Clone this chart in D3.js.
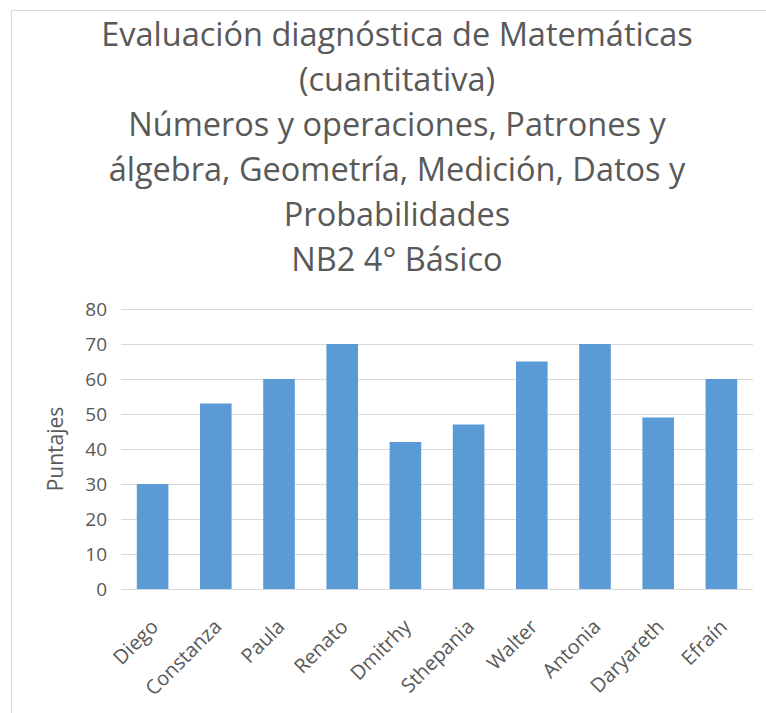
<!DOCTYPE html>
<html>
<head>
<meta charset="utf-8">
<script src="https://cdn.jsdelivr.net/npm/d3@7"></script>
<style>
  body { margin: 0; background: #fff; }
  text { font-family: "Open Sans", sans-serif; }
</style>
</head>
<body>
<div id="chart"></div>
<script>
// datos del grafico
var alumnos = ["Diego", "Constanza", "Paula", "Renato", "Dmitrhy", "Sthepania", "Walter", "Antonia", "Daryareth", "Efraín"];
var puntajes = [30, 53, 60, 70, 42, 47, 65, 70, 49, 60];
var yTicks = [0, 10, 20, 30, 40, 50, 60, 70, 80];
var tituloLineas = [
    "Evaluación diagnóstica de Matemáticas",
    "(cuantitativa)",
    "Números y operaciones, Patrones y",
    "álgebra, Geometría, Medición, Datos y",
    "Probabilidades",
    "NB2 4° Básico"
];
var ejeY = "Puntajes";

var width = 766, height = 713;
var margin = { top: 309, right: 13, bottom: 124, left: 121 };
var plotW = width - margin.left - margin.right;
var plotH = height - margin.top - margin.bottom;

var svg = d3.select("#chart").append("svg")
    .attr("width", width)
    .attr("height", height);

// marco del grafico
svg.append("rect")
    .attr("x", 11.5).attr("y", 10.5)
    .attr("width", 800).attr("height", 800)
    .attr("fill", "none")
    .attr("stroke", "#d9d9d9");

// titulo
svg.append("g").selectAll("text")
    .data(tituloLineas)
    .enter()
    .append("text")
    .attr("x", 397)
    .attr("y", function(d, i) { return 46 + i * 45; })
    .attr("text-anchor", "middle")
    .style("font-size", "32.5px")
    .style("fill", "#595959")
    .text(function(d) { return d; });

var g = svg.append("g").attr("transform", "translate(" + margin.left + "," + margin.top + ")");

var x = d3.scaleBand()
    .domain(alumnos)
    .range([0, plotW])
    .paddingInner(0.5)
    .paddingOuter(0.25);

var y = d3.scaleLinear()
    .domain([0, 80])
    .range([plotH, 0]);

// lineas de cuadricula
g.selectAll(".grid")
    .data(yTicks)
    .enter()
    .append("line")
    .attr("x1", 0).attr("x2", plotW)
    .attr("y1", function(d) { return Math.round(y(d)) + 0.5; })
    .attr("y2", function(d) { return Math.round(y(d)) + 0.5; })
    .attr("stroke", "#d9d9d9")
    .attr("stroke-width", 1);

// eje y
var yAxis = d3.axisLeft(y).tickValues(yTicks).tickSize(0).tickPadding(14);
var gy = g.append("g").call(yAxis);
gy.select(".domain").remove();
gy.selectAll("text")
    .style("font-size", "19px")
    .style("font-family", "Open Sans, sans-serif")
    .style("fill", "#595959");

// barras
g.selectAll(".bar")
    .data(puntajes)
    .enter()
    .append("rect")
    .attr("x", function(d, i) { return x(alumnos[i]); })
    .attr("y", function(d) { return y(d); })
    .attr("width", x.bandwidth())
    .attr("height", function(d) { return plotH - y(d); })
    .attr("fill", "#5b9bd5");

// eje x
var xAxis = d3.axisBottom(x).tickSize(0).tickPadding(0);
var gx = g.append("g").attr("transform", "translate(0," + plotH + ")").call(xAxis);
gx.select(".domain").remove();
gx.selectAll("text")
    .attr("transform", "translate(2,34) rotate(-45)")
    .attr("dy", "0.35em")
    .attr("y", 0)
    .attr("text-anchor", "end")
    .style("font-size", "20px")
    .style("font-family", "Open Sans, sans-serif")
    .style("fill", "#595959");

// titulo eje y
svg.append("text")
    .attr("transform", "rotate(-90)")
    .attr("x", -(margin.top + plotH / 2))
    .attr("y", 63)
    .attr("text-anchor", "middle")
    .style("font-size", "21px")
    .style("fill", "#595959")
    .text(ejeY);
</script>
</body>
</html>
